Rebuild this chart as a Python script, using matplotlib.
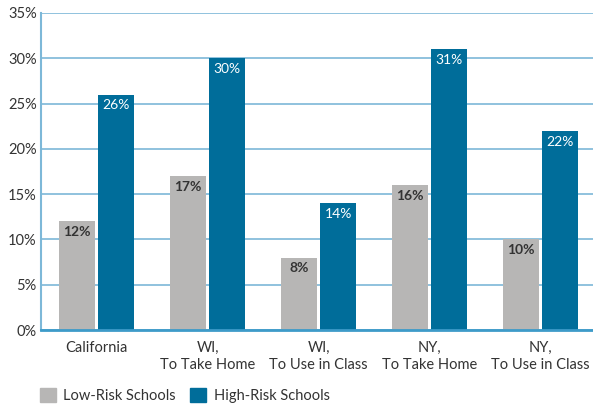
import numpy as np
import matplotlib.pyplot as plt
from matplotlib.patches import Patch

plt.rcParams['font.family'] = ['Lato', 'DejaVu Sans']

categories = ['California', 'WI,\nTo Take Home', 'WI,\nTo Use in Class',
              'NY,\nTo Take Home', 'NY,\nTo Use in Class']
low_risk = [12, 17, 8, 16, 10]
high_risk = [26, 30, 14, 31, 22]
y_ticks = [0, 5, 10, 15, 20, 25, 30, 35]

gray = '#b7b6b5'
blue = '#006d9a'
grid_blue = '#7db8d8'

fig = plt.figure(figsize=(5.93, 4.04), dpi=100)
ax = fig.add_axes([41 / 593, 1 - 330 / 404, 1 - 41 / 593, 317 / 404])

x = np.arange(len(categories))
w = 36 / 111
gap = 3 / 111
b1 = ax.bar(x - (w + gap) / 2, low_risk, w, color=gray, zorder=3)
b2 = ax.bar(x + (w + gap) / 2, high_risk, w, color=blue, zorder=3)

for rect, v in zip(b1, low_risk):
    ax.annotate(f'{v}%', (rect.get_x() + rect.get_width() / 2, v),
                xytext=(0, -3.5), textcoords='offset points', ha='center', va='top',
                fontsize=10, fontweight='bold', color='#333333', zorder=4)
for rect, v in zip(b2, high_risk):
    ax.annotate(f'{v}%', (rect.get_x() + rect.get_width() / 2, v),
                xytext=(0, -3.5), textcoords='offset points', ha='center', va='top',
                fontsize=10, color='white', zorder=4)

ax.set_xlim(-0.5, 4.47)
ax.set_ylim(0, 35)
ax.set_yticks(y_ticks)
ax.set_yticklabels([f'{t}%' for t in y_ticks], fontsize=10.5, color='#333333')
ax.set_xticks(x)
ax.set_xticklabels(categories, fontsize=10.5, color='#333333', linespacing=1.25)
ax.tick_params(axis='both', length=0, pad=3)
ax.tick_params(axis='x', pad=8)
ax.grid(axis='y', color=grid_blue, linewidth=1.2, zorder=0)

for s in ['top', 'right']:
    ax.spines[s].set_visible(False)
ax.spines['left'].set_color(grid_blue)
ax.spines['left'].set_linewidth(1.5)
ax.spines['bottom'].set_color('#3d9bc9')
ax.spines['bottom'].set_linewidth(2)
ax.spines['bottom'].set_zorder(5)

handles = [Patch(color=gray, label='Low-Risk Schools'),
           Patch(color=blue, label='High-Risk Schools')]
fig.legend(handles=handles, loc='lower left', bbox_to_anchor=(0.045, -0.03), ncol=2,
           frameon=False, fontsize=10.5, handlelength=1.1, handleheight=1.1,
           handletextpad=0.5, columnspacing=1.0, labelcolor='#333333')

fig.savefig('out.png', dpi=100)
